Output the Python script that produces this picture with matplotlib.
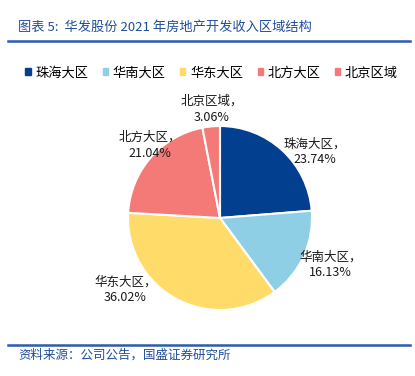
import matplotlib
matplotlib.use("Agg")
import matplotlib.pyplot as plt
from matplotlib.lines import Line2D

plt.rcParams['font.family'] = ['Noto Sans CJK SC', 'DejaVu Sans']

regions = ["珠海大区", "华南大区", "华东大区", "北方大区", "北京区域"]
shares = [23.74, 16.13, 36.02, 21.04, 3.06]
colors = ["#02408F", "#8FCFE6", "#FFDC6A", "#F47A78", "#F47A78"]
label_pos = [(1.03, 0.72), (1.20, -0.51), (-1.03, -0.78), (-0.76, 0.79), (-0.09, 1.18)]

W, H = 415, 376
fig = plt.figure(figsize=(W / 100, H / 100), dpi=100)

title_blue = "#1F4E9A"
fig.text(18 / W, 1 - 27 / H, "图表 5:  华发股份 2021 年房地产开发收入区域结构",
         fontsize=9.5, color=title_blue, style="italic", va="center", ha="left")
fig.add_artist(Line2D([8 / W, 410 / W], [1 - 41 / H, 1 - 41 / H], color="#2A5CAA", lw=1.8))
fig.add_artist(Line2D([8 / W, 410 / W], [1 - 345 / H, 1 - 345 / H], color="#2A5CAA", lw=1.8))
fig.text(18 / W, 1 - 355 / H, "资料来源：公司公告，国盛证券研究所",
         fontsize=9, color=title_blue, style="italic", va="center", ha="left")

cx, cy, r = 220, 218, 92
ax = fig.add_axes([(cx - r) / W, 1 - (cy + r) / H, 2 * r / W, 2 * r / H])
wedges, _ = ax.pie(shares, colors=colors, startangle=90, counterclock=False,
                   wedgeprops=dict(edgecolor="white", linewidth=1.5))
ax.set_xlim(-1, 1)
ax.set_ylim(-1, 1)
ax.set_aspect("auto")

for name, val, (lx, ly) in zip(regions, shares, label_pos):
    ax.text(lx, ly, f"{name}，\n{val:.2f}%", ha="center", va="center",
            fontsize=9, color="#1a1a1a", linespacing=1.3)

handles = [plt.Rectangle((0, 0), 1, 1, color=c) for c in colors]
fig.legend(handles, regions, loc="center", bbox_to_anchor=(0.51, 1 - 73 / H),
           ncol=5, frameon=False, fontsize=9.5, handlelength=0.4, handleheight=0.4,
           handletextpad=0.35, columnspacing=1.1)

fig.savefig("out.png", dpi=100)
